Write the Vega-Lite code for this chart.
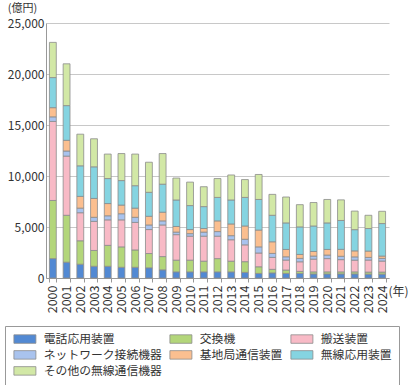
{
  "$schema": "https://vega.github.io/schema/vega-lite/v6.json",
  "width": 343,
  "height": 255,
  "autosize": {"type": "none"},
  "padding": {"left": 46, "top": 23, "right": 20, "bottom": 107},
  "background": "white",
  "config": {
    "font": "Noto Sans CJK JP",
    "view": {"stroke": null},
    "axis": {"labelFont": "Noto Sans CJK JP", "titleFont": "Noto Sans CJK JP", "labelColor": "#333333", "titleColor": "#333333"},
    "legend": {"labelFont": "Noto Sans CJK JP"}
  },
  "data": {
    "values": [
      {"year": "2000", "電話応用装置": 1900, "交換機": 5700, "搬送装置": 7750, "ネットワーク接続機器": 450, "基地局通信装置": 900, "無線応用装置": 2950, "その他の無線通信機器": 3450},
      {"year": "2001", "電話応用装置": 1550, "交換機": 4600, "搬送装置": 5800, "ネットワーク接続機器": 500, "基地局通信装置": 1050, "無線応用装置": 3400, "その他の無線通信機器": 4100},
      {"year": "2002", "電話応用装置": 1350, "交換機": 2300, "搬送装置": 2750, "ネットワーク接続機器": 450, "基地局通信装置": 1150, "無線応用装置": 3000, "その他の無線通信機器": 3100},
      {"year": "2003", "電話応用装置": 1150, "交換機": 1550, "搬送装置": 2850, "ネットワーク接続機器": 400, "基地局通信装置": 1850, "無線応用装置": 3100, "その他の無線通信機器": 2750},
      {"year": "2004", "電話応用装置": 1150, "交換機": 2050, "搬送装置": 2500, "ネットワーク接続機器": 400, "基地局通信装置": 1200, "無線応用装置": 2450, "その他の無線通信機器": 2400},
      {"year": "2005", "電話応用装置": 1050, "交換機": 2000, "搬送装置": 2650, "ネットワーク接続機器": 600, "基地局通信装置": 850, "無線応用装置": 2400, "その他の無線通信機器": 2650},
      {"year": "2006", "電話応用装置": 1050, "交換機": 1700, "搬送装置": 2700, "ネットワーク接続機器": 500, "基地局通信装置": 900, "無線応用装置": 2200, "その他の無線通信機器": 3100},
      {"year": "2007", "電話応用装置": 1000, "交換機": 1400, "搬送装置": 2350, "ネットワーク接続機器": 450, "基地局通信装置": 850, "無線応用装置": 2350, "その他の無線通信機器": 2950},
      {"year": "2008", "電話応用装置": 800, "交換機": 1300, "搬送装置": 3100, "ネットワーク接続機器": 400, "基地局通信装置": 850, "無線応用装置": 2750, "その他の無線通信機器": 3000},
      {"year": "2009", "電話応用装置": 600, "交換機": 1150, "搬送装置": 2500, "ネットワーク接続機器": 250, "基地局通信装置": 550, "無線応用装置": 2600, "その他の無線通信機器": 2150},
      {"year": "2010", "電話応用装置": 600, "交換機": 1150, "搬送装置": 2350, "ネットワーク接続機器": 250, "基地局通信装置": 400, "無線応用装置": 2350, "その他の無線通信機器": 2300},
      {"year": "2011", "電話応用装置": 600, "交換機": 1050, "搬送装置": 2450, "ネットワーク接続機器": 400, "基地局通信装置": 350, "無線応用装置": 2150, "その他の無線通信機器": 1950},
      {"year": "2012", "電話応用装置": 600, "交換機": 1300, "搬送装置": 2200, "ネットワーク接続機器": 450, "基地局通信装置": 1050, "無線応用装置": 2300, "その他の無線通信機器": 1850},
      {"year": "2013", "電話応用装置": 600, "交換機": 1050, "搬送装置": 2100, "ネットワーク接続機器": 400, "基地局通信装置": 1150, "無線応用装置": 2350, "その他の無線通信機器": 2450},
      {"year": "2014", "電話応用装置": 550, "交換機": 1050, "搬送装置": 1650, "ネットワーク接続機器": 550, "基地局通信装置": 1300, "無線応用装置": 2800, "その他の無線通信機器": 1750},
      {"year": "2015", "電話応用装置": 450, "交換機": 650, "搬送装置": 1350, "ネットワーク接続機器": 600, "基地局通信装置": 1650, "無線応用装置": 3000, "その他の無線通信機器": 2450},
      {"year": "2016", "電話応用装置": 500, "交換機": 350, "搬送装置": 1170, "ネットワーク接続機器": 390, "基地局通信装置": 1140, "無線応用装置": 2600, "その他の無線通信機器": 2050},
      {"year": "2017", "電話応用装置": 450, "交換機": 330, "搬送装置": 980, "ネットワーク接続機器": 320, "基地局通信装置": 720, "無線応用装置": 2600, "その他の無線通信機器": 2540},
      {"year": "2018", "電話応用装置": 450, "交換機": 200, "搬送装置": 940, "ネットワーク接続機器": 330, "基地局通信装置": 390, "無線応用装置": 2700, "その他の無線通信機器": 2180},
      {"year": "2019", "電話応用装置": 400, "交換機": 200, "搬送装置": 1250, "ネットワーク接続機器": 300, "基地局通信装置": 450, "無線応用装置": 2500, "その他の無線通信機器": 2300},
      {"year": "2020", "電話応用装置": 400, "交換機": 200, "搬送装置": 1300, "ネットワーク接続機器": 350, "基地局通信装置": 550, "無線応用装置": 2600, "その他の無線通信機器": 2300},
      {"year": "2021", "電話応用装置": 400, "交換機": 200, "搬送装置": 1200, "ネットワーク接続機器": 330, "基地局通信装置": 680, "無線応用装置": 2830, "その他の無線通信機器": 2020},
      {"year": "2022", "電話応用装置": 400, "交換機": 200, "搬送装置": 1150, "ネットワーク接続機器": 320, "基地局通信装置": 590, "無線応用装置": 2080, "その他の無線通信機器": 1820},
      {"year": "2023", "電話応用装置": 380, "交換機": 200, "搬送装置": 1180, "ネットワーク接続機器": 260, "基地局通信装置": 620, "無線応用装置": 2210, "その他の無線通信機器": 1300},
      {"year": "2024", "電話応用装置": 380, "交換機": 200, "搬送装置": 1080, "ネットワーク接続機器": 260, "基地局通信装置": 230, "無線応用装置": 3190, "その他の無線通信機器": 1200}
    ]
  },
  "transform": [
    {"fold": ["電話応用装置", "交換機", "搬送装置", "ネットワーク接続機器", "基地局通信装置", "無線応用装置", "その他の無線通信機器"], "as": ["cat", "value"]},
    {"window": [{"op": "row_number", "as": "k"}], "groupby": ["year"]}
  ],
  "mark": {"type": "bar", "stroke": "#8c8c8c", "strokeWidth": 0.8},
  "encoding": {
    "x": {
      "field": "year", "type": "ordinal",
      "scale": {"paddingInner": 0.5, "paddingOuter": 0.25},
      "axis": {
        "title": "(年)", "titleAngle": 0, "titleX": 352, "titleY": 13, "titleAlign": "center", "titleBaseline": "middle",
        "titleFontSize": 12, "titleFontWeight": "normal",
        "labelAngle": -90, "labelFontSize": 12.5, "labelPadding": 3,
        "tickBand": "extent", "tickSize": 4, "tickColor": "#999999", "domainColor": "#999999"
      }
    },
    "y": {
      "field": "value", "type": "quantitative", "stack": "zero",
      "scale": {"domain": [0, 25000]},
      "axis": {
        "title": "(億円)", "titleAngle": 0, "titleX": -24, "titleY": -21, "titleAlign": "center", "titleBaseline": "top",
        "titleFontSize": 11, "titleFontWeight": "normal",
        "values": [0, 5000, 10000, 15000, 20000, 25000], "format": ",d",
        "labelFontSize": 12, "labelPadding": 2, "ticks": false,
        "gridColor": "#c8c8c8", "domainColor": "#999999"
      }
    },
    "order": {"field": "k", "type": "quantitative", "sort": "ascending"},
    "color": {
      "field": "cat", "type": "nominal",
      "sort": ["電話応用装置", "交換機", "搬送装置", "ネットワーク接続機器", "基地局通信装置", "無線応用装置", "その他の無線通信機器"],
      "scale": {
        "domain": ["電話応用装置", "交換機", "搬送装置", "ネットワーク接続機器", "基地局通信装置", "無線応用装置", "その他の無線通信機器"],
        "range": ["#5289d3", "#b3d67a", "#f8bac6", "#a9c3ee", "#fbbf90", "#85d4e1", "#d2e8a6"]
      },
      "legend": {
        "title": null, "orient": "none", "legendX": -41, "legendY": 303, "direction": "horizontal", "columns": 3,
        "padding": 7, "strokeColor": "#999999", "fillColor": "white",
        "labelFontSize": 11.8, "labelColor": "#333333", "labelOffset": 13, "labelLimit": 200,
        "symbolType": "M-2.2,-0.85H2.2V0.85H-2.2Z", "symbolSize": 100, "symbolOffset": 7,
        "symbolStrokeColor": "#8c8c8c", "symbolStrokeWidth": 0.8,
        "columnPadding": 6, "rowPadding": 3
      }
    }
  }
}
